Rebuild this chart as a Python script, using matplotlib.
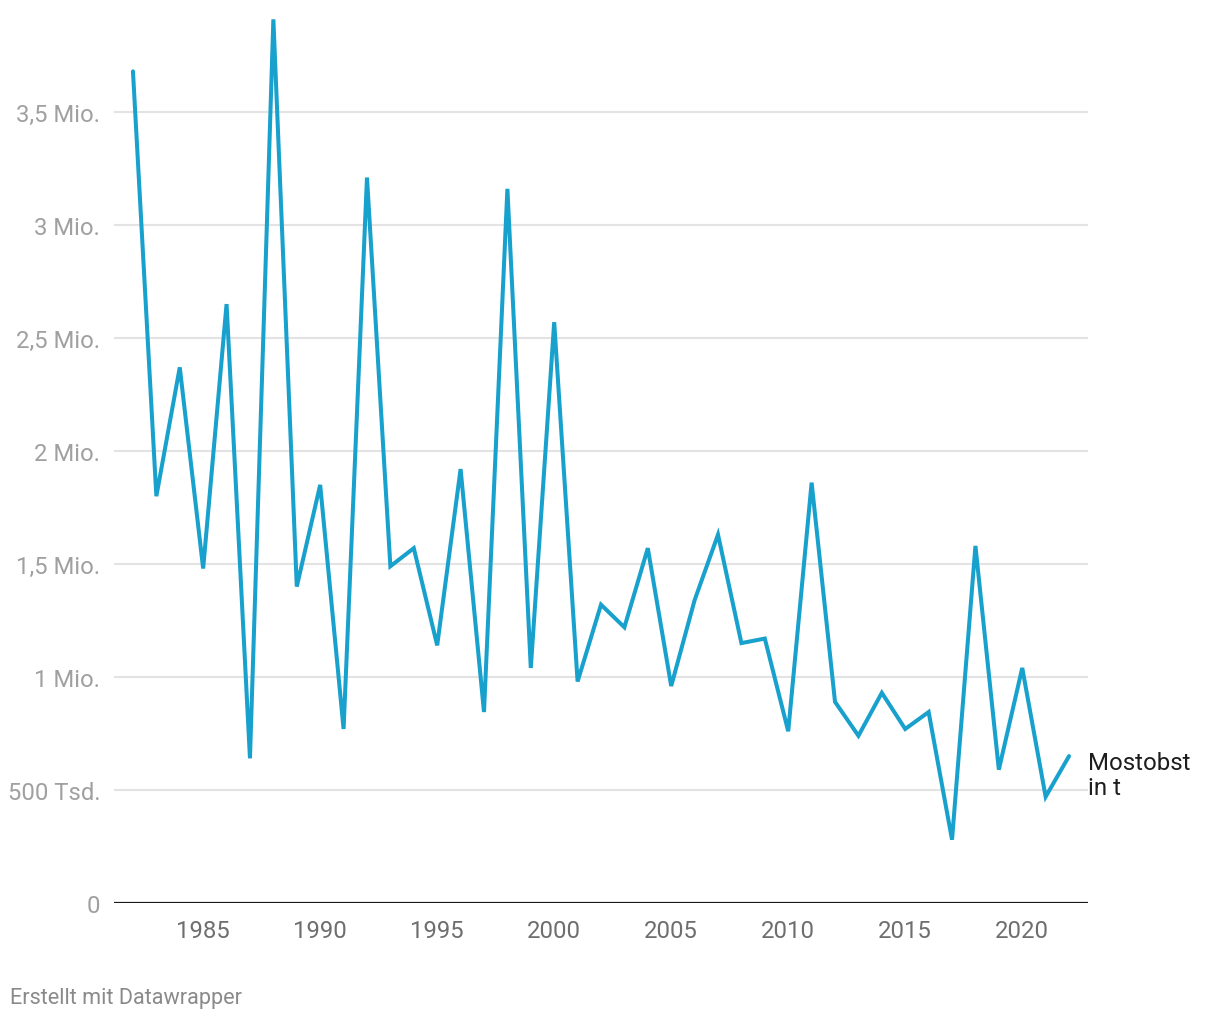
import matplotlib
matplotlib.use("Agg")
import matplotlib.pyplot as plt

# Mostobst harvest in tonnes
years = list(range(1982, 2023))
values = [
    3.68, 1.80, 2.37, 1.48, 2.65, 0.64, 3.91, 1.40, 1.85, 0.77,
    3.21, 1.49, 1.57, 1.14, 1.92, 0.845, 3.16, 1.04, 2.57, 0.98,
    1.32, 1.22, 1.57, 0.96, 1.34, 1.63, 1.15, 1.17, 0.76, 1.86,
    0.89, 0.74, 0.93, 0.77, 0.845, 0.28, 1.58, 0.59, 1.04, 0.47,
    0.65,
]
values = [v * 1e6 for v in values]

y_ticks = [0, 0.5e6, 1e6, 1.5e6, 2e6, 2.5e6, 3e6, 3.5e6]
y_labels = ["0", "500 Tsd.", "1 Mio.", "1,5 Mio.", "2 Mio.", "2,5 Mio.", "3 Mio.", "3,5 Mio."]
x_ticks = [1985, 1990, 1995, 2000, 2005, 2010, 2015, 2020]
series_label = "Mostobst\nin t"

plt.rcParams['font.family'] = ['Roboto', 'DejaVu Sans']

fig = plt.figure(figsize=(12.2, 10.2), dpi=100)
ax = fig.add_axes([114 / 1220, 116 / 1020, 974 / 1220, 904 / 1020])

# Grid lines (skip zero, baseline drawn separately)
for t in y_ticks[1:]:
    ax.axhline(t, color="#e3e3e3", linewidth=1.5, zorder=1)
ax.axhline(0, color="#1a1a1a", linewidth=1.6, zorder=3)

ax.plot(years, values, color="#18a1cd", linewidth=2.9, zorder=4,
        solid_joinstyle="miter", solid_capstyle="round", clip_on=False)

ax.set_xlim(1981.19, 2022.81)
ax.set_ylim(0, 4.0e6)

for s in ax.spines.values():
    s.set_visible(False)

ax.set_yticks(y_ticks)
ax.set_yticklabels(y_labels)
ax.set_xticks(x_ticks)
ax.tick_params(axis="y", length=0, pad=10, labelsize=17.2, labelcolor="#a0a0a0")
ax.tick_params(axis="x", length=0, pad=11.5, labelsize=17.2, labelcolor="#6e6e6e")

# Series label at end of the line
ax.annotate(series_label, xy=(1, 0), xycoords="axes fraction",
            xytext=(1088, 1020 - 776), textcoords="figure pixels",
            ha="left", va="center", fontsize=17.3, color="#1d1d1d",
            linespacing=1.1)

fig.text(10 / 1220, 1 - 999 / 1020, "Erstellt mit Datawrapper",
         ha="left", va="center", fontsize=15.6, color="#8a8a8a")

fig.savefig("out.png", dpi=100, facecolor="white")
plt.close(fig)
